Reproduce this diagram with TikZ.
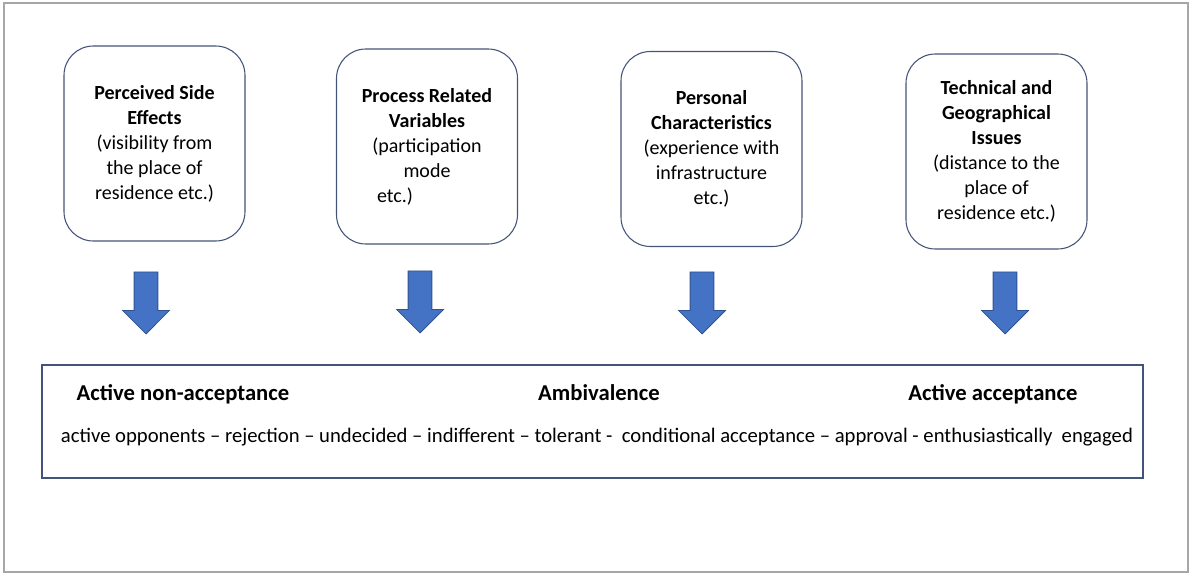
\documentclass[tikz,border=0pt]{standalone}
\usepackage{fontspec}
\setmainfont{Carlito}
\usetikzlibrary{positioning, shapes.arrows}
\definecolor{frameline}{RGB}{166,166,166}
\definecolor{boxline}{RGB}{68,84,120}
\definecolor{arrowfill}{RGB}{68,114,196}
\definecolor{arrowline}{RGB}{47,82,143}
\tikzset{factor/.style={draw=boxline, line width=0.8pt, rounded corners=22pt, minimum width=135.75pt, minimum height=146.25pt, align=center, inner sep=0pt, font=\fontsize{15}{18.75}\selectfont},
  blockarrow/.style={single arrow, rotate=-90, fill=arrowfill, draw=arrowline, line width=0.6pt, minimum height=46.5pt, single arrow head extend=8.6pt, inner xsep=0pt, inner ysep=8.6pt},
  heading/.style={anchor=base, font=\bfseries\fontsize{17}{20}\selectfont},
  scaletext/.style={anchor=base, font=\fontsize{15.5}{19}\selectfont}}

\begin{document}
\begin{tikzpicture}[x=0.75pt, y=-0.75pt]
    \useasboundingbox (0,0) rectangle (1190,574);
    \draw[frameline, line width=1.5pt] (4,3) rectangle (1188,572);

    \node[factor] (f-1) at (154.5,143.5) {\textbf{Perceived Side}\\\textbf{Effects}\\(visibility from\\the place of\\residence etc.)};
    \node[factor] (f-2) at (427,146.5) {\textbf{Process Related}\\\textbf{Variables}\\(participation\\mode\\etc.)\hspace*{48pt}};
    \node[factor] (f-3) at (711.5,149) {\textbf{Personal}\\\textbf{Characteristics}\\(experience with\\infrastructure\\etc.)};
    \node[factor] (f-4) at (996.5,151.5) {\textbf{Technical and}\\\textbf{Geographical}\\\textbf{Issues}\\(distance to the\\place of\\residence etc.)};

    \node[blockarrow] (a-1) at (146,297) {};
    \node[blockarrow] (a-2) at (420,296) {};
    \node[blockarrow] (a-3) at (702,297) {};
    \node[blockarrow] (a-4) at (1005,297) {};

    \node[draw=boxline, line width=0.8pt, minimum width=825.75pt, minimum height=84.75pt, inner sep=0pt] (scale) at (592.5,421.5) {};
    \node[heading] (h-1) at (183,400) {Active non-acceptance};
    \node[heading] (h-2) at (599,400) {Ambivalence};
    \node[heading] (h-3) at (993,400) {Active acceptance};
    \node[scaletext] (s-1) at (597,442) {active opponents – rejection – undecided – indifferent – tolerant -\ \ conditional acceptance – approval - enthusiastically\ \ engaged};
\end{tikzpicture}
\end{document}
